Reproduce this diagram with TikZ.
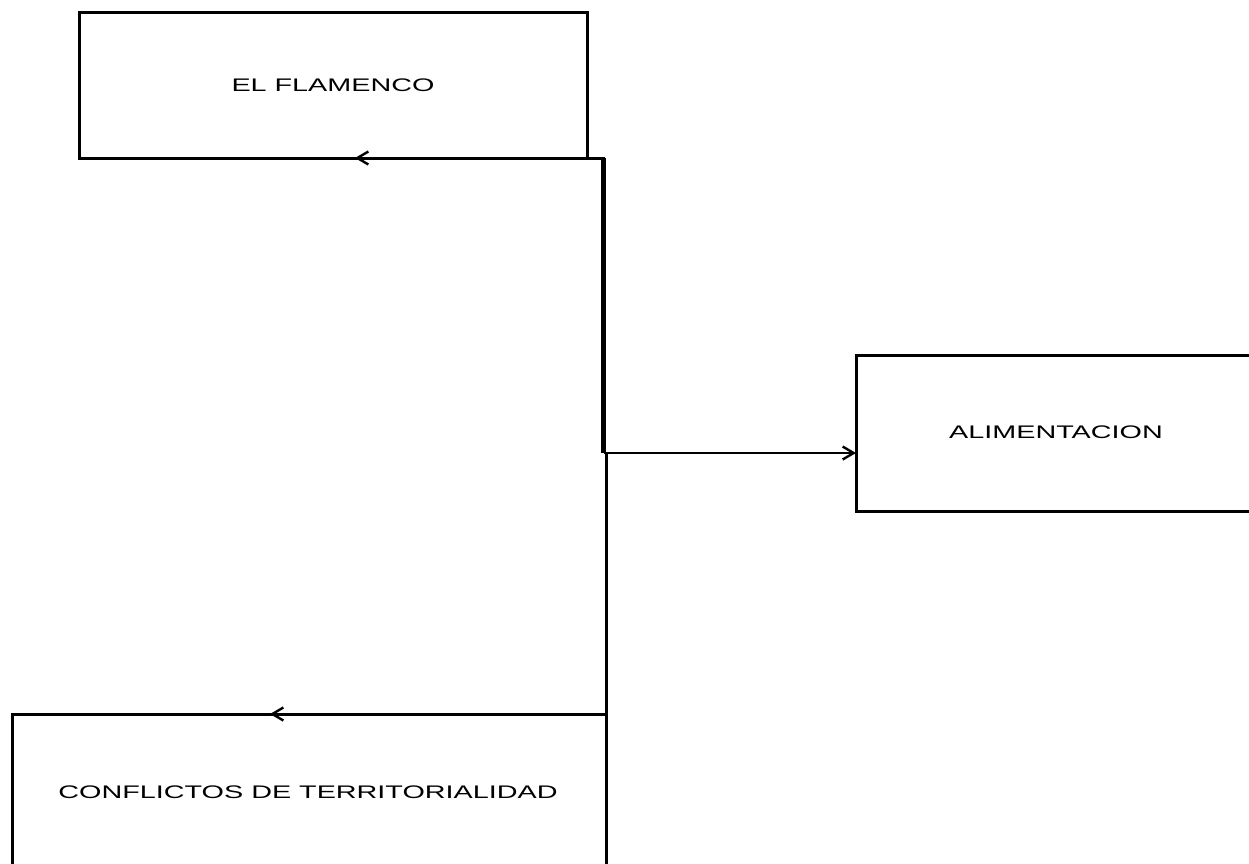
\documentclass[tikz,border=0pt]{standalone}
\usepackage{fontspec}
\usepackage{graphicx}
\setmainfont{Liberation Sans}
\usetikzlibrary{arrows.meta}
\tikzset{
  box/.style={draw=black, line width=3pt, inner sep=0pt, outer sep=0pt},
  lbl/.style={font=\fontsize{18.2}{20}\selectfont},
  conn/.style={draw=black, -{Straight Barb[length=11pt,width=13pt,line width=2.4pt]}},
}
\newcommand{\wide}[1]{\scalebox{1.58}[1]{#1}}
\begin{document}
\begin{tikzpicture}[x=1pt,y=-1pt]
\useasboundingbox (0,0) rectangle (1249,863);
\node[box, minimum width=508pt, minimum height=146pt] (fl) at (333,85) {};
\node[lbl] (flt) at (333,85) {\wide{EL FLAMENCO}};
\node[box, minimum width=400pt, minimum height=156pt] (al) at (1056,433) {};
\node[lbl] (alt) at (1056,432) {\wide{ALIMENTACION}};
\node[box, minimum width=594pt, minimum height=156pt] (cf) at (309,792) {};
\node[lbl] (cft) at (308,792) {\wide{CONFLICTOS DE TERRITORIALIDAD}};
\coordinate (j) at (603.5,453);
\draw[conn, line width=3pt] (j) |- ([xshift=22pt]fl.south);
\draw[line width=4.5pt] (j) -- (j |- fl.south);
\draw[conn, line width=1.8pt] (j) -- (j -| al.west);
\draw[conn, line width=3pt] ([xshift=3pt]j) |- ([xshift=-39pt]cf.north);
\end{tikzpicture}
\end{document}
